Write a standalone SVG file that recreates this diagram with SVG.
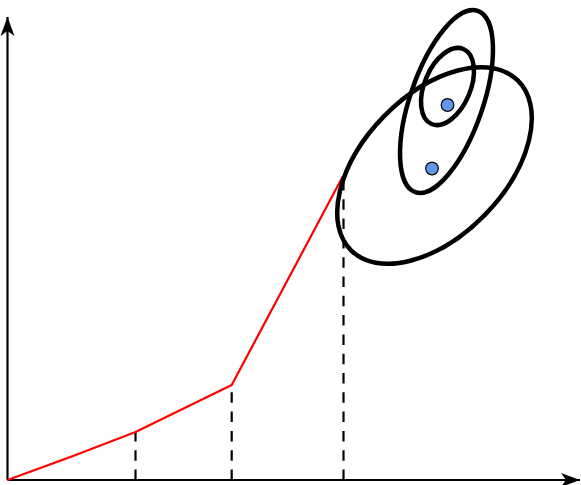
<svg xmlns="http://www.w3.org/2000/svg" width="581" height="485" viewBox="0 0 581 485">
<style>
.axis{stroke:#000;stroke-width:2.2;fill:none}
.dash{stroke:#000;stroke-width:2.2;stroke-dasharray:10.5 8.8;fill:none}
.red{stroke:#ff0000;stroke-width:2.2;fill:none;stroke-linejoin:round}
.ell{stroke:#000;stroke-width:4.5;fill:none}
.dot{fill:#6495ed;stroke:#000;stroke-width:1.2}
</style>
<defs>
<marker id="arr" markerUnits="userSpaceOnUse" markerWidth="26" markerHeight="20" viewBox="-22 -10 26 20" refX="0" refY="0" orient="auto">
<path d="M0,0 L-19,-7 L-14,0 L-19,7 Z" fill="#000"/>
</marker>
</defs>
<g id="connectors">
<line class="axis" x1="7.5" y1="480" x2="7.5" y2="17" marker-end="url(#arr)"/>
<line class="axis" x1="7.5" y1="480" x2="580" y2="480" marker-end="url(#arr)"/>
<line class="dash" x1="135.5" y1="480" x2="135.5" y2="432"/>
<line class="dash" x1="231.7" y1="480" x2="231.7" y2="385"/>
<line class="dash" x1="343.5" y1="480" x2="343.5" y2="177"/>
<path class="red" d="M7.5,480 Q72,457 135.5,432 L231.7,385 L343,176"/>
</g>
<g id="ellipse-large"><ellipse class="ell" cx="434.5" cy="165.5" rx="119" ry="70.5" transform="rotate(-45.6 434.5 165.5)"/></g>
<g id="ellipse-tall"><ellipse class="ell" cx="446.5" cy="101.5" rx="36.4" ry="95.9" transform="rotate(19 446.5 101.5)"/></g>
<g id="ellipse-small"><ellipse class="ell" cx="447.5" cy="86.5" rx="23" ry="40.7" transform="rotate(23 447.5 86.5)"/></g>
<g id="dot-1"><circle class="dot" cx="447.5" cy="105" r="6.3"/></g>
<g id="dot-2"><circle class="dot" cx="432" cy="168.5" r="6.3"/></g>
</svg>
